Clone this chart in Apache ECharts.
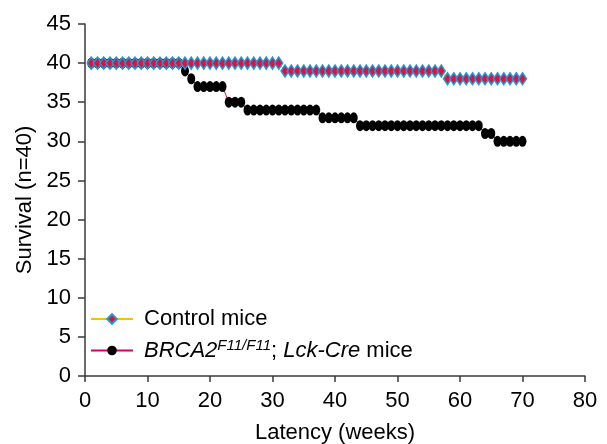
<!DOCTYPE html>
<html>
<head>
<meta charset="utf-8">
<script src="https://cdn.jsdelivr.net/npm/echarts@6/dist/echarts.min.js"></script>
<style>
  html, body { margin: 0; padding: 0; background: #fff; }
  #chart { width: 607px; height: 444px; }
</style>
</head>
<body>
<div id="chart"></div>
<script>
const weeks = [
  1, 2, 3, 4, 5, 6, 7, 8, 9, 10,
  11, 12, 13, 14, 15, 16, 17, 18, 19, 20,
  21, 22, 23, 24, 25, 26, 27, 28, 29, 30,
  31, 32, 33, 34, 35, 36, 37, 38, 39, 40,
  41, 42, 43, 44, 45, 46, 47, 48, 49, 50,
  51, 52, 53, 54, 55, 56, 57, 58, 59, 60,
  61, 62, 63, 64, 65, 66, 67, 68, 69, 70
]
const controlSurvival = [
  40, 40, 40, 40, 40, 40, 40, 40, 40, 40,
  40, 40, 40, 40, 40, 40, 40, 40, 40, 40,
  40, 40, 40, 40, 40, 40, 40, 40, 40, 40,
  40, 39, 39, 39, 39, 39, 39, 39, 39, 39,
  39, 39, 39, 39, 39, 39, 39, 39, 39, 39,
  39, 39, 39, 39, 39, 39, 39, 38, 38, 38,
  38, 38, 38, 38, 38, 38, 38, 38, 38, 38
]
const brcaSurvival = [
  40, 40, 40, 40, 40, 40, 40, 40, 40, 40,
  40, 40, 40, 40, 40, 39, 38, 37, 37, 37,
  37, 37, 35, 35, 35, 34, 34, 34, 34, 34,
  34, 34, 34, 34, 34, 34, 34, 33, 33, 33,
  33, 33, 33, 32, 32, 32, 32, 32, 32, 32,
  32, 32, 32, 32, 32, 32, 32, 32, 32, 32,
  32, 32, 32, 31, 31, 30, 30, 30, 30, 30
]
const xTicks = [0, 10, 20, 30, 40, 50, 60, 70, 80]
const yTicks = [0, 5, 10, 15, 20, 25, 30, 35, 40, 45]

const font = 'Liberation Sans, Arial, sans-serif'
const axisColor = '#3a3a3a'
const fs = 22

const chart = echarts.init(document.getElementById('chart'))

const pairs = (xs, ys) => xs.map((x, i) => [x, ys[i]])

const option = {
  animation: false,
  textStyle: { fontFamily: font },
  grid: { left: 85, right: 22, top: 24, bottom: 68, containLabel: false, outerBoundsMode: 'none' },
  legend: {
    orient: 'vertical',
    left: 85,
    top: 303,
    itemWidth: 42,
    itemHeight: 12,
    itemGap: 8,
    data: ['Control mice', 'BRCA2'],
    textStyle: {
      fontSize: fs,
      color: '#000',
      fontFamily: font,
      padding: [0, 0, 0, 6],
      rich: {
        i: { fontSize: fs, fontStyle: 'italic', fontFamily: font, color: '#000' },
        sup: { fontSize: 15, fontStyle: 'italic', fontFamily: font, color: '#000', verticalAlign: 'top', padding: [0, 0, 10, 0] },
        n: { fontSize: fs, fontFamily: font, color: '#000' }
      }
    },
    formatter: function (name) {
      if (name === 'BRCA2') {
        return '{i|BRCA2}{sup|F11/F11}{n|; }{i|Lck-Cre}{n| mice}'
      }
      return name
    }
  },
  xAxis: {
    type: 'value',
    min: 0,
    max: 80,
    interval: 10,
    name: 'Latency (weeks)',
    nameLocation: 'middle',
    nameGap: 46,
    nameTextStyle: { fontSize: fs, color: '#000', fontFamily: font },
    splitLine: { show: false },
    axisLine: { lineStyle: { color: axisColor, width: 1.5 } },
    axisTick: { inside: false, length: 6, lineStyle: { color: axisColor, width: 1.5 } },
    axisLabel: {
      fontSize: fs, color: '#000', margin: 14, fontFamily: font,
      formatter: v => (xTicks.includes(v) ? String(v) : '')
    }
  },
  yAxis: {
    type: 'value',
    min: 0,
    max: 45,
    interval: 5,
    name: 'Survival (n=40)',
    nameLocation: 'middle',
    nameGap: 44,
    nameTextStyle: { fontSize: fs, color: '#000', fontFamily: font },
    splitLine: { show: false },
    axisLine: { show: true, lineStyle: { color: axisColor, width: 1.5 } },
    axisTick: { show: true, inside: false, length: 7, lineStyle: { color: axisColor, width: 1.5 } },
    axisLabel: {
      fontSize: fs, color: '#000', margin: 14, fontFamily: font,
      formatter: v => (yTicks.includes(v) ? String(v) : '')
    }
  },
  series: [
    {
      name: 'BRCA2',
      type: 'line',
      data: pairs(weeks, brcaSurvival),
      symbol: 'circle',
      symbolSize: [8, 11],
      showAllSymbol: true,
      lineStyle: { color: '#d4006a', width: 1 },
      itemStyle: { color: '#000', borderColor: '#000', borderWidth: 0 },
      z: 2
    },
    {
      name: 'Control mice',
      type: 'line',
      data: pairs(weeks, controlSurvival),
      symbol: 'diamond',
      symbolSize: [8, 12],
      showAllSymbol: true,
      lineStyle: { color: '#f2c300', width: 1 },
      itemStyle: { color: '#e2103c', borderColor: '#1e9ad8', borderWidth: 1.5 },
      z: 3
    }
  ]
}

chart.setOption(option)
</script>
</body>
</html>
